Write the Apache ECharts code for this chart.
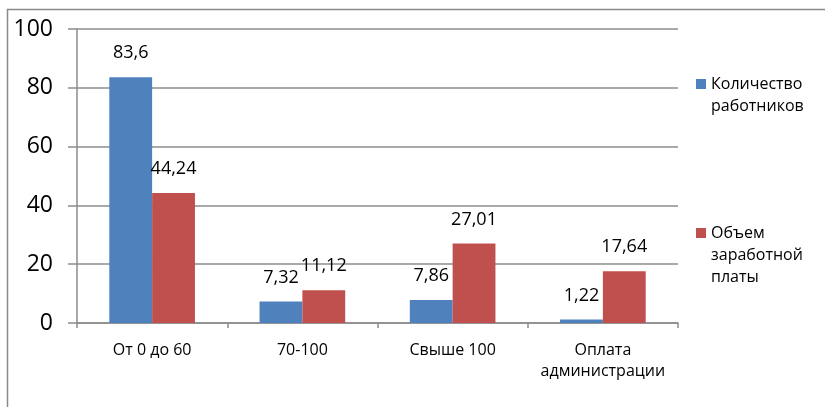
<!DOCTYPE html>
<html>
<head>
<meta charset="utf-8">
<script src="https://cdn.jsdelivr.net/npm/echarts@6/dist/echarts.min.js"></script>
<style>
html,body{margin:0;padding:0;background:#fff;}
#chart{width:825px;height:407px;}
</style>
</head>
<body>
<div id="chart"></div>
<script>
var categories = ['От 0 до 60', '70-100', 'Свыше 100', 'Оплата\nадминистрации'];
var workers = [83.6, 7.32, 7.86, 1.22];
var payroll = [44.24, 11.12, 27.01, 17.64];
var seriesNames = ['Количество работников', 'Объем заработной платы'];
var legendLines = [['Количество', 'работников'], ['Объем', 'заработной', 'платы']];
var yTicks = [0, 20, 40, 60, 80, 100];

var FONT = 'Open Sans';
var chart = echarts.init(document.getElementById('chart'), null, {renderer: 'canvas'});
var fmt = function (p) { return String(p.value).replace('.', ','); };
var labelStyle = {show: true, position: 'top', distance: 15, color: '#000', fontFamily: FONT, fontSize: 18, formatter: fmt};

function legendFormatter(idx) {
  return function () {
    var lines = legendLines[idx];
    var pad = [];
    for (var i = 1; i < lines.length; i++) pad.push('{p|}');
    return pad.concat(lines.map(function (l) { return '{t|' + l + '}'; })).join('\n');
  };
}
var legendRich = {
  p: {height: 22, lineHeight: 22, fontSize: 16, fontFamily: FONT},
  t: {height: 22, lineHeight: 22, fontSize: 16, fontFamily: FONT, color: '#000'}
};

chart.setOption({
  animation: false,
  backgroundColor: '#fff',
  graphic: [{
    type: 'rect', silent: true, z: -10,
    shape: {x: 7.5, y: 9.5, width: 900, height: 500},
    style: {fill: 'none', stroke: '#8a8a8a', lineWidth: 1.5}
  }],
  grid: {left: 77, top: 29, right: 147, bottom: 84, containLabel: false},
  legend: [{
    data: [seriesNames[0]], orient: 'vertical', left: 696, top: 51, padding: 0,
    icon: 'rect', itemWidth: 10, itemHeight: 10, formatter: legendFormatter(0),
    textStyle: {fontFamily: FONT, fontSize: 16, color: '#000', rich: legendRich}
  }, {
    data: [seriesNames[1]], orient: 'vertical', left: 696, top: 178, padding: 0,
    icon: 'rect', itemWidth: 10, itemHeight: 10, formatter: legendFormatter(1),
    textStyle: {fontFamily: FONT, fontSize: 16, color: '#000', rich: legendRich}
  }],
  xAxis: {
    type: 'category', data: categories,
    axisLine: {lineStyle: {color: '#8c8c8c', width: 1.5}},
    axisTick: {show: true, length: 5, alignWithLabel: false, lineStyle: {color: '#8c8c8c', width: 1.5}},
    axisLabel: {color: '#000', fontFamily: FONT, fontSize: 16, margin: 17, lineHeight: 21, interval: 0}
  },
  yAxis: {
    type: 'value', min: yTicks[0], max: yTicks[yTicks.length - 1], interval: yTicks[1] - yTicks[0],
    axisLine: {show: true, lineStyle: {color: '#8c8c8c', width: 1.5}},
    axisTick: {show: true, inside: false, length: 9, lineStyle: {color: '#8c8c8c', width: 1.5}},
    splitLine: {show: true, lineStyle: {color: '#8c8c8c', width: 1.5}},
    axisLabel: {color: '#000', fontFamily: FONT, fontSize: 23, margin: 24}
  },
  series: [{
    name: seriesNames[0], type: 'bar', data: workers,
    barGap: '0%', barCategoryGap: '43%',
    itemStyle: {color: '#4F81BD'}, label: labelStyle
  }, {
    name: seriesNames[1], type: 'bar', data: payroll,
    barGap: '0%', barCategoryGap: '43%',
    itemStyle: {color: '#C0504D'}, label: labelStyle
  }]
});
</script>
</body>
</html>
